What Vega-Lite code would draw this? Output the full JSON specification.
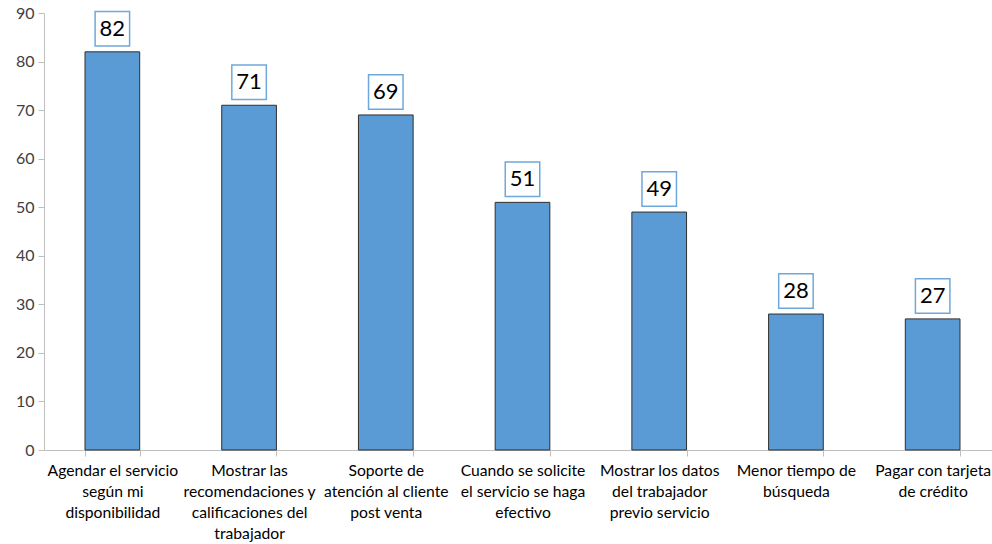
{
  "$schema": "https://vega.github.io/schema/vega-lite/v6.json",
  "autosize": "none",
  "padding": {"left": 44, "top": 13, "right": 0, "bottom": 94},
  "width": 948,
  "height": 437,
  "background": "white",
  "config": {"view": {"stroke": null}, "font": "Lato"},
  "data": {
    "values": [
      {"categoria": "Agendar el servicio|según mi|disponibilidad", "valor": 82},
      {"categoria": "Mostrar las|recomendaciones y|calificaciones del|trabajador", "valor": 71},
      {"categoria": "Soporte de|atención al cliente|post venta", "valor": 69},
      {"categoria": "Cuando se solicite|el servicio se haga|efectivo", "valor": 51},
      {"categoria": "Mostrar los datos|del trabajador|previo servicio", "valor": 49},
      {"categoria": "Menor tiempo de|búsqueda", "valor": 28},
      {"categoria": "Pagar con tarjeta|de crédito", "valor": 27}
    ]
  },
  "encoding": {
    "x": {
      "field": "categoria",
      "type": "nominal",
      "sort": null,
      "scale": {"paddingInner": 0.6, "paddingOuter": 0.3, "range": [0, 957]},
      "axis": {
        "title": null,
        "labelAngle": 0,
        "labelExpr": "split(datum.label, '|')",
        "labelFontSize": 15.7,
        "labelColor": "#000000",
        "labelLineHeight": 21,
        "labelPadding": 7,
        "labelLimit": 200,
        "labelBaseline": "top",
        "tickBand": "extent",
        "tickSize": 6,
        "tickColor": "#BFBFBF",
        "domainColor": "#BFBFBF",
        "labelFont": "Lato"
      }
    },
    "y": {
      "field": "valor",
      "type": "quantitative",
      "scale": {"domain": [0, 90], "nice": false},
      "axis": {
        "title": null,
        "values": [0, 10, 20, 30, 40, 50, 60, 70, 80, 90],
        "grid": false,
        "labelFontSize": 16,
        "labelColor": "#404040",
        "tickSize": 6,
        "tickColor": "#BFBFBF",
        "domainColor": "#BFBFBF",
        "labelPadding": 4,
        "labelFont": "Lato"
      }
    }
  },
  "layer": [
    {
      "mark": {"type": "bar", "fill": "#5B9BD5", "stroke": "#2F2F2F", "strokeWidth": 1}
    },
    {
      "mark": {"type": "point", "shape": "square", "size": 1190, "filled": true, "fill": "white", "stroke": "#6FA8DC", "strokeWidth": 1.5, "yOffset": -23, "opacity": 1}
    },
    {
      "mark": {"type": "text", "fontSize": 22, "color": "#000000", "baseline": "middle", "align": "center", "yOffset": -23, "font": "Lato"},
      "encoding": {"text": {"field": "valor", "type": "quantitative"}}
    }
  ]
}
